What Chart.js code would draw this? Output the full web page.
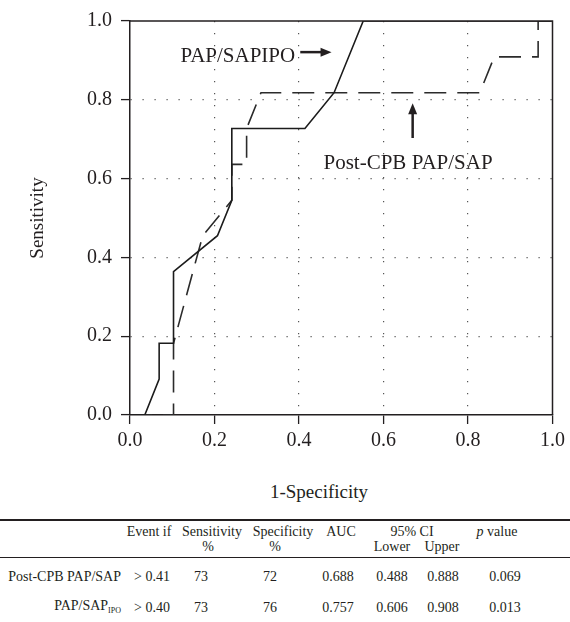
<!DOCTYPE html>
<html>
<head>
<meta charset="utf-8">
<script src="https://cdn.jsdelivr.net/npm/chart.js@4/dist/chart.umd.min.js"></script>
<style>
  html, body { margin:0; padding:0; background:#fff; }
  body { width:570px; height:622px; position:relative; overflow:hidden; font-family:"Liberation Serif", "DejaVu Serif", serif; color:#231f20; }
  #wrap { position:absolute; left:0; top:0; width:570px; height:470px; }
  .t { position:absolute; white-space:nowrap; font-size:14px; line-height:14px; }
  .c { transform:translate(-50%,-50%); }
  .r { transform:translate(-100%,-50%); }
  .rule { position:absolute; left:0; width:570px; background:#231f20; }
  sub { font-size:8px; vertical-align:-3px; }
</style>
</head>
<body>
<div id="wrap"><canvas id="c" width="570" height="470"></canvas></div>
<div id="xtitle" class="t c" style="left:319px;top:491px;font-size:19px;line-height:19px;">1-Specificity</div>
<div id="table"></div>
<script>
// ---- ROC curve data (1-Specificity, Sensitivity) ----
const ipoX  = [0, 0.035, 0.069, 0.069, 0.103, 0.103, 0.207, 0.241, 0.241, 0.414, 0.483, 0.552, 1.0];
const ipoY  = [0, 0,     0.091, 0.182, 0.182, 0.364, 0.455, 0.545, 0.727, 0.727, 0.818, 1.0,   1.0];
const postX = [0, 0.103, 0.103, 0.172, 0.241, 0.241, 0.276, 0.276, 0.310, 0.828, 0.862, 0.966, 0.966, 1.0];
const postY = [0, 0,     0.182, 0.455, 0.545, 0.636, 0.636, 0.727, 0.818, 0.818, 0.909, 0.909, 1.0,   1.0];
const tickValues = [0, 0.2, 0.4, 0.6, 0.8, 1.0];

// ---- Table data ----
const header1 = ['Event if', 'Sensitivity', 'Specificity', 'AUC', '95% CI', 'p value'];
const header2 = ['%', '%', 'Lower', 'Upper'];
const rowNames = ['Post-CPB PAP/SAP', 'PAP/SAP'];
const rowSubs = ['', 'IPO'];
const eventIf = ['> 0.41', '> 0.40'];
const sensPct = ['73', '73'];
const specPct = ['72', '76'];
const aucVals = ['0.688', '0.757'];
const ciLower = ['0.488', '0.606'];
const ciUpper = ['0.888', '0.908'];
const pVals = ['0.069', '0.013'];

const FONT = '"Liberation Serif", "DejaVu Serif", serif';
const INK = '#231f20';

const toPts = (xs, ys) => xs.map((x, i) => ({x: x, y: ys[i]}));

const annotations = {
  id: 'annotations',
  afterDatasetsDraw(chart) {
    const {ctx, chartArea, scales} = chart;
    const sx = scales.x, sy = scales.y;
    ctx.save();
    // frame top/right
    ctx.strokeStyle = INK; ctx.lineWidth = 1.5;
    ctx.beginPath();
    ctx.moveTo(chartArea.left, chartArea.top);
    ctx.lineTo(chartArea.right, chartArea.top);
    ctx.lineTo(chartArea.right, chartArea.bottom);
    ctx.stroke();
    // labels
    ctx.fillStyle = INK;
    ctx.font = '21px ' + FONT;
    ctx.textBaseline = 'alphabetic';
    ctx.textAlign = 'right';
    ctx.fillText('PAP/SAPIPO', sx.getPixelForValue(0.391), sy.getPixelForValue(0.897));
    ctx.textAlign = 'left';
    ctx.fillText('Post-CPB PAP/SAP', sx.getPixelForValue(0.458), sy.getPixelForValue(0.625));
    // right arrow
    const ay = sy.getPixelForValue(0.921);
    const ax0 = sx.getPixelForValue(0.403), ax1 = sx.getPixelForValue(0.477);
    ctx.lineWidth = 2.5;
    ctx.beginPath(); ctx.moveTo(ax0, ay); ctx.lineTo(ax1 - 8, ay); ctx.stroke();
    ctx.beginPath(); ctx.moveTo(ax1, ay); ctx.lineTo(ax1 - 11, ay - 4.5); ctx.lineTo(ax1 - 11, ay + 4.5); ctx.closePath(); ctx.fill();
    // up arrow
    const ux = sx.getPixelForValue(0.669);
    const uy0 = sy.getPixelForValue(0.703), uy1 = sy.getPixelForValue(0.791);
    ctx.beginPath(); ctx.moveTo(ux, uy0); ctx.lineTo(ux, uy1 + 8); ctx.stroke();
    ctx.beginPath(); ctx.moveTo(ux, uy1); ctx.lineTo(ux - 4.5, uy1 + 11); ctx.lineTo(ux + 4.5, uy1 + 11); ctx.closePath(); ctx.fill();
    ctx.restore();
  }
};

const gridColor = (c) => (c.tick && (c.tick.value === 0 || c.tick.value === 1)) ? 'rgba(0,0,0,0)' : '#555';

new Chart(document.getElementById('c'), {
  type: 'line',
  data: {
    datasets: [
      { label: 'PAP/SAPIPO', data: toPts(ipoX, ipoY), borderColor: '#1c1c1c', borderWidth: 1.6,
        pointRadius: 0, tension: 0, fill: false },
      { label: 'Post-CPB PAP/SAP', data: toPts(postX, postY), borderColor: '#2b2b2b', borderWidth: 1.6,
        borderDash: [22, 11], pointRadius: 0, tension: 0, fill: false }
    ]
  },
  options: {
    responsive: false, animation: false, devicePixelRatio: 1,
    layout: { padding: { top: 17, right: 14, left: 0, bottom: 0 } },
    plugins: { legend: { display: false }, tooltip: { enabled: false } },
    scales: {
      x: {
        type: 'linear', min: 0, max: 1,
        afterBuildTicks: (s) => { s.ticks = tickValues.map(v => ({value: v})); },
        afterFit: (s) => { s.height = 55; },
        ticks: { callback: (v) => Number(v).toFixed(1), font: { family: FONT, size: 20 }, color: INK, padding: 5, maxRotation: 0, autoSkip: false },
        grid: { color: gridColor, lineWidth: 1.2, tickLength: 9, tickColor: INK, tickWidth: 1.3, tickBorderDash: [] },
        border: { color: INK, width: 1.5, dash: [1.2, 10.8] }
      },
      y: {
        type: 'linear', min: 0, max: 1,
        afterBuildTicks: (s) => { s.ticks = tickValues.map(v => ({value: v})); },
        afterFit: (s) => { s.width = 130; },
        ticks: { callback: (v) => Number(v).toFixed(1), font: { family: FONT, size: 20 }, color: INK, padding: 9, autoSkip: false },
        grid: { color: gridColor, lineWidth: 1.2, tickLength: 9, tickColor: INK, tickWidth: 1.3, tickBorderDash: [] },
        border: { color: INK, width: 1.5, dash: [1.2, 10.8] },
        title: { display: true, text: 'Sensitivity', font: { family: FONT, size: 19 }, color: INK, padding: { top: 27, bottom: 0 } }
      }
    }
  },
  plugins: [annotations]
});

// ---- Build table below chart ----
const tbl = document.getElementById('table');
function cell(html, x, y, cls) {
  const d = document.createElement('div');
  d.className = 't ' + cls;
  d.style.left = x + 'px'; d.style.top = y + 'px';
  d.innerHTML = html;
  tbl.appendChild(d);
}
function rule(y, h) {
  const d = document.createElement('div');
  d.className = 'rule'; d.style.top = y + 'px'; d.style.height = h + 'px';
  tbl.appendChild(d);
}
rule(519, 2);
rule(557, 1);
const h1X = [149, 212, 283, 341, 412, 497];
header1.forEach((h, i) => cell(h === 'p value' ? '<i>p</i> value' : h, h1X[i], 532, 'c'));
const h2X = [208, 275, 392, 442];
header2.forEach((h, i) => cell(h, h2X[i], 547, 'c'));
const rowY = [577, 608];
const colX = [152, 201, 270, 338, 392, 443, 505];
rowNames.forEach((n, i) => {
  cell(n + (rowSubs[i] ? '<sub>' + rowSubs[i] + '</sub>' : ''), 121, rowY[i], 'r');
  [eventIf[i], sensPct[i], specPct[i], aucVals[i], ciLower[i], ciUpper[i], pVals[i]]
    .forEach((v, j) => cell(v, colX[j], rowY[i], 'c'));
});
</script>
</body>
</html>
